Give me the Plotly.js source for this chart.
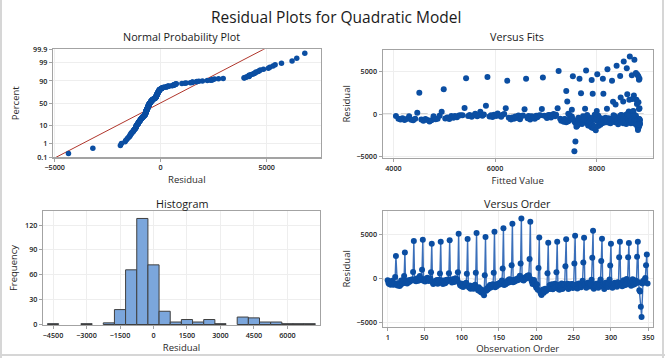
<!DOCTYPE html>
<html><head><meta charset="utf-8">
<script src="https://cdn.plot.ly/plotly-3.0.1.min.js"></script>
<style>html,body{margin:0;padding:0;background:#fff;}#chart{width:665px;height:358px;}</style>
</head><body><div id="chart"></div>
<script>
// Residuals in observation order (349 observations)
const residuals = [
-200,-520,-610,-470,-690,-560,-240,-640,-700,-540,160,2540,
-620,-780,-560,-690,-850,-720,-230,-600,-530,-180,280,2950,
-500,-380,-560,-220,-420,-200,-350,-150,-130,-120,740,4240,
-210,-80,-300,-160,40,-240,-90,280,-180,-30,1000,4390,
-260,-120,-340,-50,-200,80,-150,-290,-60,30,700,3940,
-420,-610,-380,-520,-260,-460,-160,-590,-210,-150,570,4170,
-480,-210,-620,-240,-410,-530,-180,-370,-140,-120,600,4320,
-190,-210,-450,-90,-100,-380,-160,20,-240,-70,700,5080,
-520,-760,-640,-880,-590,-950,-700,-820,-660,-480,530,4470,
-860,-1020,-780,-1150,-920,-1080,-840,-1160,-970,-690,640,5150,
-1050,-1320,-980,-1400,-1180,-1560,-1270,-1650,-1450,-1900,380,4700,
-1380,-1120,-1240,-940,-1060,-740,-1010,-700,-890,-640,640,5300,
-980,-760,-870,-620,-710,-540,-680,-460,-590,-230,1140,5700,
-720,-560,-640,-420,-500,-200,-450,-90,-380,-180,1500,6200,
-410,-160,-350,-120,-230,-40,-190,60,-90,320,1700,6800,
-150,-30,-220,90,-60,180,20,310,110,380,2200,6420,
-80,-350,-620,-280,-170,-490,-820,-1050,-680,-1280,1200,4650,
-1450,-1680,-1850,-1520,-1230,-1600,-1380,-1150,-1420,-1300,600,4050,
-1180,-720,-1150,-1080,-640,-1220,-700,-1100,-590,-1010,700,4170,
-1150,-690,-1280,-960,-1050,-560,-1190,-740,-610,-700,1400,4430,
-1020,-580,-1180,-700,-680,-960,-650,-620,-1070,-730,1700,4850,
-940,-680,-1120,-620,-560,-690,-650,-990,-720,-240,1800,4600,
-670,-620,-1050,-720,-480,-600,-590,-900,-650,-150,2350,5400,
-1160,-740,-900,-580,-820,-640,-1050,-510,-760,-110,1970,4500,
-890,-560,-1180,-700,-470,-820,-610,-960,-530,-120,1480,3940,
-780,-1050,-620,-880,-470,-730,-560,-940,-410,-680,2420,4170,
-720,-490,-880,-610,-190,-770,-540,-690,-60,-600,2420,4020,
-650,-420,-820,-560,-90,-710,-480,-620,-230,-520,2460,4170,
-420,-1320,-1480,-3200,-4350,-560,-280,-420,-130,60,1500,2730,
-570];

// Fitted values of the quadratic model, same order
const fittedValues = [
4050,4100,4140,4180,4220,4260,4310,4350,4390,4430,4470,4510,
4550,4590,4630,4670,4710,4750,4790,4830,4870,4910,4950,4990,
5020,5060,5100,5140,5180,5210,5250,5290,5320,5360,5400,5430,
5470,5500,5540,5570,5610,5650,5680,5710,5750,5780,5820,5850,
5890,5920,5950,5980,6020,6050,6080,6120,6150,6180,6210,6240,
6270,6310,6340,6370,6400,6430,6460,6490,6520,6550,6580,6610,
6640,6660,6690,6720,6750,6780,6810,6830,6860,6890,6920,6940,
6970,7000,7020,7050,7080,7100,7130,7150,7180,7200,7230,7250,
7280,7300,7330,7350,7370,7400,7420,7440,7470,7490,7510,7530,
7560,7580,7600,7620,7640,7660,7690,7710,7730,7750,7770,7790,
7810,7830,7850,7870,7890,7900,7920,7940,7960,7980,8000,8010,
8030,8050,8070,8080,8100,8120,8130,8150,8170,8180,8200,8210,
8230,8240,8260,8270,8290,8300,8320,8330,8350,8360,8370,8390,
8400,8410,8420,8440,8450,8460,8470,8480,8500,8510,8520,8530,
8540,8550,8560,8570,8580,8590,8600,8610,8620,8630,8640,8650,
8660,8660,8670,8680,8690,8690,8700,8710,8720,8720,8730,8740,
8740,8750,8750,8760,8770,8770,8780,8780,8790,8790,8790,8800,
8800,8810,8810,8810,8820,8820,8820,8820,8830,8830,8830,8830,
8830,8840,8840,8840,8840,8840,8840,8840,8840,8840,8840,8840,
8840,8840,8840,8840,8830,8830,8830,8830,8830,8820,8820,8820,
8820,8810,8810,8810,8800,8800,8790,8790,8790,8780,8780,8770,
8770,8760,8750,8750,8740,8740,8730,8720,8720,8710,8700,8690,
8690,8680,8670,8660,8660,8650,8640,8630,8620,8610,8600,8590,
8580,8570,8560,8550,8540,8530,8520,8510,8500,8480,8470,8460,
8450,8440,8420,8410,8400,8390,8370,8360,8350,8330,8320,8300,
8290,8270,8260,8240,8230,8210,8200,8180,8170,8150,8130,8120,
8100,8080,8070,8050,8030,8010,8000,7980,7960,7940,7920,7900,
7890,7870,7850,7830,7810,7790,7770,7750,7730,7710,7690,7660,
7640,7620,7600,7580,7560,7530,7510,7490,7470,7440,7420,7400,
7370];

const percentTicks = [0.1, 1, 10, 50, 90, 99, 99.9];
const percentLabels = ['0.1', '1', '10', '50', '90', '99', '99.9'];
const residualTicks = [-5000, 0, 5000];
const fittedTicks = [4000, 6000, 8000];
const histTicks = [-4500, -3000, -1500, 0, 1500, 3000, 4500, 6000];
const freqTicks = [0, 30, 60, 90, 120];
const orderTicks = [1, 50, 100, 150, 200, 250, 300, 350];
const histBinStart = -4750, histBinEnd = 7250, histBinSize = 500;

// inverse standard normal CDF (Acklam)
function invNorm(p){
  const a=[-3.969683028665376e+01,2.209460984245205e+02,-2.759285104469687e+02,1.383577518672690e+02,-3.066479806614716e+01,2.506628277459239e+00];
  const b=[-5.447609879822406e+01,1.615858368580409e+02,-1.556989798598866e+02,6.680131188771972e+01,-1.328068155288572e+01];
  const c=[-7.784894002430293e-03,-3.223964580411365e-01,-2.400758277161838e+00,-2.549732539343734e+00,4.374664141464968e+00,2.938163982698783e+00];
  const d=[7.784695709041462e-03,3.224671290700398e-01,2.445134137142996e+00,3.754408661907416e+00];
  const pl=0.02425, ph=1-pl; let q,r;
  if(p<pl){q=Math.sqrt(-2*Math.log(p));return (((((c[0]*q+c[1])*q+c[2])*q+c[3])*q+c[4])*q+c[5])/((((d[0]*q+d[1])*q+d[2])*q+d[3])*q+1);}
  if(p<=ph){q=p-0.5;r=q*q;return (((((a[0]*r+a[1])*r+a[2])*r+a[3])*r+a[4])*r+a[5])*q/(((((b[0]*r+b[1])*r+b[2])*r+b[3])*r+b[4])*r+1);}
  q=Math.sqrt(-2*Math.log(1-p));return -(((((c[0]*q+c[1])*q+c[2])*q+c[3])*q+c[4])*q+c[5])/((((d[0]*q+d[1])*q+d[2])*q+d[3])*q+1);
}

const n = residuals.length;
const observation = residuals.map((_, i) => i + 1);
const sorted = residuals.slice().sort((u, v) => u - v);
const zScores = sorted.map((_, i) => invNorm((i + 1 - 0.3) / (n + 0.4)));
const mean = residuals.reduce((s, v) => s + v, 0) / n;
const sd = Math.sqrt(residuals.reduce((s, v) => s + (v - mean) ** 2, 0) / (n - 1));
const lineZ = [-3.4, 3.4];
const lineX = lineZ.map(z => mean + sd * z);

const W = 665, H = 358;
const dx = (a, b) => [a / W, b / W];
const dy = (top, bottom) => [1 - bottom / H, 1 - top / H];

const BLUE = '#0b4ea2';
const FONT = 'Open Sans, Noto Sans, sans-serif';
const tickFont = {family: FONT, size: 7.2, color: '#222', weight: 600};
const titleFont = {family: FONT, size: 9.5, color: '#2a2a2a'};

function ax(extra){
  return Object.assign({
    showline: true, mirror: true, linecolor: '#a3a3a3', linewidth: 1.2,
    ticks: 'outside', ticklen: 3, tickcolor: '#a3a3a3', tickwidth: 1,
    showgrid: true, gridcolor: '#eeeeee', gridwidth: 1, zeroline: false,
    tickfont: tickFont, fixedrange: true, automargin: false
  }, extra);
}

const traces = [
  {type: 'scatter', mode: 'lines', x: lineX, y: lineZ, xaxis: 'x', yaxis: 'y',
   line: {color: '#b0362c', width: 1}, hoverinfo: 'skip'},
  {type: 'scatter', mode: 'markers', x: sorted, y: zScores, xaxis: 'x', yaxis: 'y',
   marker: {color: BLUE, size: 5.5}},
  {type: 'scatter', mode: 'markers', x: fittedValues, y: residuals, xaxis: 'x2', yaxis: 'y2',
   marker: {color: BLUE, size: 6}},
  {type: 'histogram', x: residuals, xaxis: 'x3', yaxis: 'y3',
   xbins: {start: histBinStart, end: histBinEnd, size: histBinSize},
   marker: {color: '#7ba6dc', line: {color: '#3f3f3f', width: 1}}},
  {type: 'scatter', mode: 'lines+markers', x: observation, y: residuals, xaxis: 'x4', yaxis: 'y4',
   line: {color: '#3a6fba', width: 1.4}, marker: {color: BLUE, size: 6}}
];

const layout = {
  width: W, height: H, showlegend: false,
  paper_bgcolor: '#ffffff', plot_bgcolor: '#ffffff',
  margin: {l: 0, r: 0, t: 0, b: 0},
  bargap: 0,
  font: {family: FONT},
  xaxis: ax({domain: dx(53, 320.7), anchor: 'y', range: [-5080, 7550], tickvals: residualTicks,
    title: {text: 'Residual', font: titleFont, standoff: 5}}),
  yaxis: ax({domain: dy(49.3, 157.3), anchor: 'x', range: [-3.1, 3.1],
    tickvals: percentTicks.map(p => invNorm(p / 100)), ticktext: percentLabels,
    title: {text: 'Percent', font: titleFont, standoff: 11}}),
  xaxis2: ax({domain: dx(382.7, 652.7), anchor: 'y2', range: [3790, 9100], tickvals: fittedTicks,
    title: {text: 'Fitted Value', font: titleFont, standoff: 5}}),
  yaxis2: ax({domain: dy(50, 157.7), anchor: 'x2', range: [-5120, 7560], tickvals: residualTicks,
    title: {text: 'Residual', font: titleFont, standoff: 4}}),
  xaxis3: ax({domain: dx(43, 320), anchor: 'y3', range: [-4950, 7460], tickvals: histTicks,
    title: {text: 'Residual', font: titleFont, standoff: 5}}),
  yaxis3: ax({domain: dy(211, 325), anchor: 'x3', range: [-0.6, 137], tickvals: freqTicks,
    title: {text: 'Frequency', font: titleFont, standoff: 5}}),
  xaxis4: ax({domain: dx(382.7, 652.7), anchor: 'y4', range: [-5.7, 355.9], tickvals: orderTicks,
    title: {text: 'Observation Order', font: titleFont, standoff: 4}}),
  yaxis4: ax({domain: dy(211, 326.7), anchor: 'x4', range: [-5450, 7640], tickvals: residualTicks,
    title: {text: 'Residual', font: titleFont, standoff: 4}}),
  shapes: [
    {type: 'line', xref: 'x2 domain', yref: 'y2', x0: 0, x1: 1, y0: 0, y1: 0,
     line: {color: '#a8a8a8', width: 1.2, dash: 'dash'}, layer: 'below'},
    {type: 'line', xref: 'x4 domain', yref: 'y4', x0: 0, x1: 1, y0: 0, y1: 0,
     line: {color: '#a8a8a8', width: 1.2, dash: 'dash'}, layer: 'below'},
    {type: 'line', xref: 'paper', yref: 'paper', x0: 1 / W, x1: 1 / W, y0: 0, y1: 1,
     line: {color: '#d6d6d6', width: 2}},
    {type: 'line', xref: 'paper', yref: 'paper', x0: 663 / W, x1: 663 / W, y0: 0, y1: 1,
     line: {color: '#d6d6d6', width: 2}},
    {type: 'line', xref: 'paper', yref: 'paper', x0: 0, x1: 1, y0: 3 / H, y1: 3 / H,
     line: {color: '#d6d6d6', width: 2}}
  ],
  annotations: [
    {text: 'Residual Plots for Quadratic Model', xref: 'paper', yref: 'paper', x: 336 / W, y: 1 - 17 / H,
     showarrow: false, xanchor: 'center', yanchor: 'middle', font: {family: FONT, size: 15.5, color: '#1a1a1a'}},
    {text: 'Normal Probability Plot', xref: 'paper', yref: 'paper', x: 181.7 / W, y: 1 - 36 / H,
     showarrow: false, xanchor: 'center', yanchor: 'middle', font: {family: FONT, size: 10.8, color: '#1a1a1a'}},
    {text: 'Versus Fits', xref: 'paper', yref: 'paper', x: 517 / W, y: 1 - 36 / H,
     showarrow: false, xanchor: 'center', yanchor: 'middle', font: {family: FONT, size: 10.8, color: '#1a1a1a'}},
    {text: 'Histogram', xref: 'paper', yref: 'paper', x: 181.7 / W, y: 1 - 203.3 / H,
     showarrow: false, xanchor: 'center', yanchor: 'middle', font: {family: FONT, size: 10.8, color: '#1a1a1a'}},
    {text: 'Versus Order', xref: 'paper', yref: 'paper', x: 517 / W, y: 1 - 203.3 / H,
     showarrow: false, xanchor: 'center', yanchor: 'middle', font: {family: FONT, size: 10.8, color: '#1a1a1a'}}
  ]
};

Plotly.newPlot('chart', traces, layout, {displayModeBar: false, staticPlot: true});
</script></body></html>
